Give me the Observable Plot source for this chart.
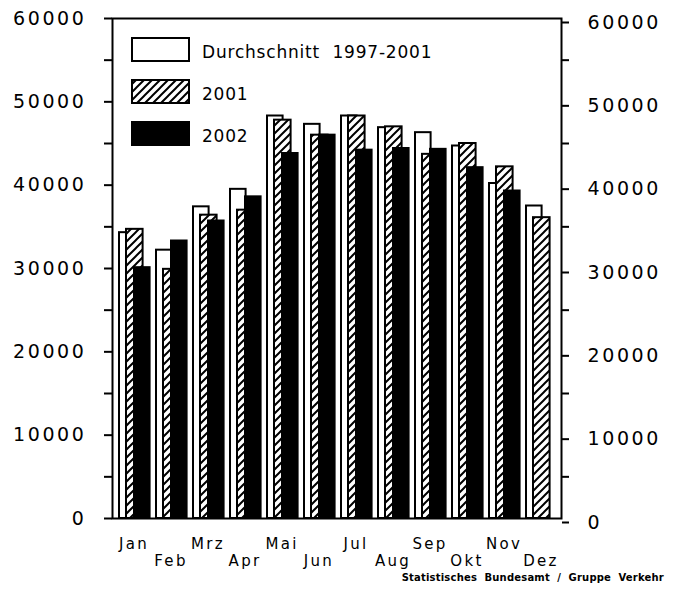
<!DOCTYPE html>
<html>
<head>
<meta charset="utf-8">
<script src="https://cdn.jsdelivr.net/npm/d3@7"></script>
<script src="https://cdn.jsdelivr.net/npm/@observablehq/plot@0.6"></script>
<style>
  body { margin: 0; background: #fff; }
  #wrap { position: relative; width: 685px; height: 590px; font-family: "DejaVu Sans", sans-serif; }
  g[aria-label="y-axis tick label"] text { letter-spacing: 2.6px; }
  g[aria-label="x-axis tick label"] text { letter-spacing: 2.3px; }
  #caption { position: absolute; right: 21px; top: 572px; font: bold 10px "DejaVu Sans", sans-serif; letter-spacing: 0.2px; color: #000; white-space: pre; }
  #legend { position: absolute; left: 0; top: 0; }
</style>
</head>
<body>
<svg width="0" height="0" style="position:absolute">
  <defs>
    <pattern id="hatch" patternUnits="userSpaceOnUse" width="8" height="8">
      <rect width="8" height="8" fill="#fff"></rect>
      <path d="M-2,2 L2,-2 M0,8 L8,0 M6,10 L10,6" stroke="#000" stroke-width="2"></path>
    </pattern>
  </defs>
</svg>
<div id="wrap"></div>
<script>
const months = ["Jan","Feb","Mrz","Apr","Mai","Jun","Jul","Aug","Sep","Okt","Nov","Dez"];
const avg9701 = [34300, 32200, 37400, 39500, 48300, 47300, 48300, 46900, 46300, 44700, 40200, 37500];
const y2001   = [34700, 29900, 36400, 37000, 47800, 46000, 48300, 47000, 43700, 45000, 42200, 36100];
const y2002   = [30100, 33300, 35700, 38600, 43800, 46000, 44200, 44400, 44300, 42100, 39300, null];
const seriesLabels = ["Durchschnitt  1997-2001", "2001", "2002"];
const yTicks = [0, 10000, 20000, 30000, 40000, 50000, 60000];
const yMinorTicks = [5000, 15000, 25000, 35000, 45000, 55000];
const caption = "Statistisches  Bundesamt  /  Gruppe  Verkehr";

const rows = months.map((m, i) => ({month: m, avg: avg9701[i], y01: y2001[i], y02: y2002[i]}));
const oddMonths = months.filter((d, i) => i % 2 === 0);
const evenMonths = months.filter((d, i) => i % 2 === 1);

const chart = Plot.plot({
  width: 685,
  height: 590,
  marginTop: 18,
  marginBottom: 72,
  marginLeft: 112,
  marginRight: 124,
  style: {fontFamily: "DejaVu Sans, sans-serif", color: "#000", background: "#fff"},
  x: {type: "band", domain: months, padding: 0, label: null},
  y: {domain: [0, 60000], label: null},
  marks: [
    Plot.barY(rows, {x: "month", y: "avg", fill: "#fff", stroke: "#000", strokeWidth: 2, insetLeft: 4, insetRight: 17.4}),
    Plot.barY(rows, {x: "month", y: "y01", fill: "url(#hatch)", stroke: "#000", strokeWidth: 2, insetLeft: 11, insetRight: 9.4}),
    Plot.barY(rows.filter(d => d.y02 != null), {x: "month", y: "y02", fill: "#000", stroke: "#000", strokeWidth: 2, insetLeft: 19, insetRight: 2.4}),
    Plot.frame({stroke: "#000", strokeWidth: 2}),
    Plot.axisY(yTicks, {anchor: "left", label: null, tickSize: 8, tickPadding: 18, fontSize: 19, strokeWidth: 2, tickFormat: d => String(d)}),
    Plot.axisY(yMinorTicks, {anchor: "left", label: null, tickSize: 8, strokeWidth: 2, tickFormat: () => ""}),
    Plot.axisY(yTicks, {anchor: "right", label: null, tickSize: 7, tickPadding: 19, dy: 4, fontSize: 19, strokeWidth: 2, tickFormat: d => String(d)}),
    Plot.axisY(yMinorTicks, {anchor: "right", label: null, tickSize: 7, strokeWidth: 2, tickFormat: () => ""}),
    Plot.axisX(oddMonths, {anchor: "bottom", label: null, tickSize: 0, tickPadding: 20, fontSize: 15}),
    Plot.axisX(evenMonths, {anchor: "bottom", label: null, tickSize: 0, tickPadding: 37, fontSize: 15})
  ]
});

const wrap = document.getElementById("wrap");
wrap.appendChild(chart);

// legend overlay
const fills = ["#fff", "url(#hatch)", "#000"];
const leg = d3.select(wrap).append("svg").attr("id", "legend").attr("width", 685).attr("height", 200);
seriesLabels.forEach((lab, i) => {
  const top = 38 + i * 42;
  leg.append("rect").attr("x", 132).attr("y", top).attr("width", 57).attr("height", 23)
    .attr("fill", fills[i]).attr("stroke", "#000").attr("stroke-width", 2);
  leg.append("text").attr("x", 202).attr("y", top + 20)
    .attr("font-family", "DejaVu Sans, sans-serif").attr("font-size", 17)
    .attr("letter-spacing", "0.8px").attr("fill", "#000").style("white-space", "pre").text(lab);
});

const cap = document.createElement("div");
cap.id = "caption";
cap.textContent = caption;
wrap.appendChild(cap);
</script>
</body>
</html>
